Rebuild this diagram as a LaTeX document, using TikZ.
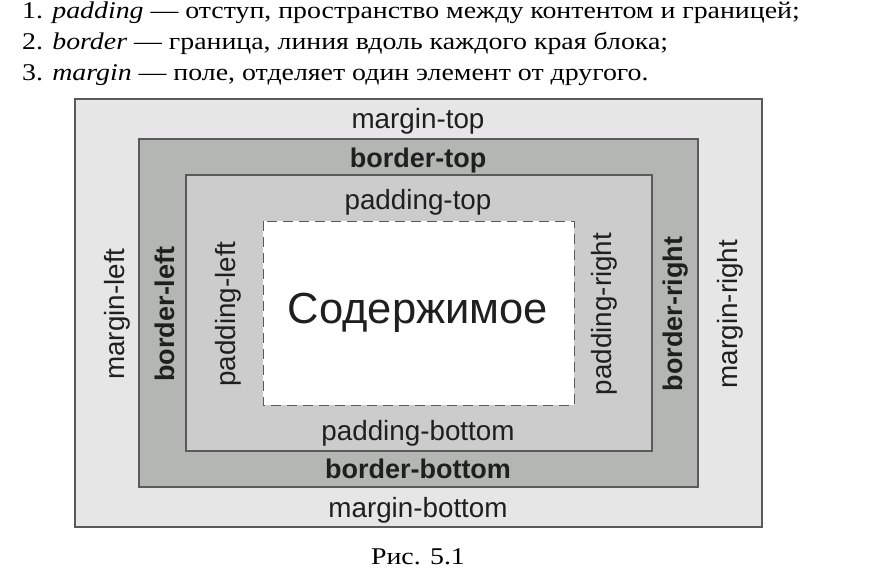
\documentclass[tikz,border=0pt]{standalone}
\usepackage{fontspec}
\setmainfont{Liberation Serif}
\newfontfamily\boxfont{Liberation Sans}

\definecolor{marginfill}{HTML}{E6E6E6}
\definecolor{borderfill}{HTML}{B4B6B4}
\definecolor{paddingfill}{HTML}{CCCCCC}
\definecolor{edgegray}{HTML}{5A5A5A}

% stretched body text, as the reference prints it
\newcommand{\widetext}[1]{\scalebox{1.16}[1]{#1}}

\tikzset{
    box/.style={draw=edgegray, line width=1.3pt},
    listline/.style={anchor=base west, inner sep=0pt, font=\fontsize{24}{28}\selectfont},
    lbl/.style={inner sep=0pt, text=black!88, font=\boxfont\fontsize{27.8}{30}\selectfont},
    blbl/.style={lbl, font=\boxfont\bfseries\fontsize{27}{30}\selectfont},
}

\begin{document}
\begin{tikzpicture}[x=1pt,y=-1pt]
    \useasboundingbox (0,0) rectangle (886,573);

    % List above the figure
    \node[listline] (item1) at (22,18.5) {\widetext{1. \textit{padding} — отступ, пространство между контентом и границей;}};
    \node[listline] (item2) at (22,49) {\widetext{2. \textit{border} — граница, линия вдоль каждого края блока;}};
    \node[listline] (item3) at (22,80) {\widetext{3. \textit{margin} — поле, отделяет один элемент от другого.}};

    % Nested boxes: margin, border, padding, content
    \draw[box, fill=marginfill] (75,99) rectangle (762,527);
    \draw[box, fill=borderfill] (139,139) rectangle (698,487);
    \draw[box, fill=paddingfill] (186,175) rectangle (652,451);
    \draw[draw=edgegray, line width=1pt, dash pattern=on 10pt off 6pt, fill=white]
        (263,221) rectangle (574,405);

    % Top and bottom labels
    \node[lbl] (mtop) at (418,121) {margin-top};
    \node[blbl] (btop) at (418,161) {border-top};
    \node[lbl] (ptop) at (418,202.5) {padding-top};
    \node[lbl] (pbot) at (418,433.5) {padding-bottom};
    \node[blbl] (bbot) at (418,469) {border-bottom};
    \node[lbl] (mbot) at (418,510) {margin-bottom};

    % Side labels
    \node[lbl, rotate=90] (mleft) at (117,314) {margin-left};
    \node[blbl, rotate=90] (bleft) at (165,314) {border-left};
    \node[lbl, rotate=90] (pleft) at (228,314) {padding-left};
    \node[lbl, rotate=90] (pright) at (604,314) {padding-right};
    \node[blbl, rotate=90] (bright) at (676,314) {border-right};
    \node[lbl, rotate=90] (mright) at (730,314) {margin-right};

    % Content
    \node[lbl, font=\boxfont\fontsize{43.5}{46}\selectfont] (content) at (418,313) {Содержимое};

    % Caption
    \node[anchor=base, inner sep=0pt, font=\fontsize{24}{28}\selectfont] (caption) at (418,564) {\widetext{Рис. 5.1}};
\end{tikzpicture}
\end{document}
